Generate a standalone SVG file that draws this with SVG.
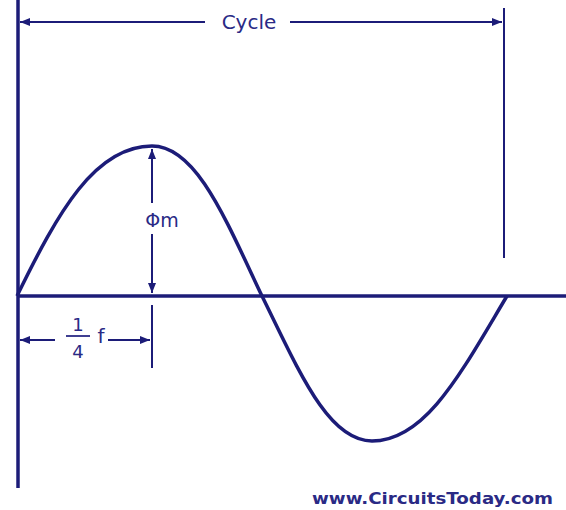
<svg xmlns="http://www.w3.org/2000/svg" width="566" height="510" viewBox="0 0 566 510">
<style>
.ln{stroke:#1c1c78;fill:none}
.t{font-family:"DejaVu Sans",Verdana,sans-serif;fill:#2a2a85}
</style>
<defs>
<marker id="ah" viewBox="0 0 10 8" refX="10" refY="4" markerWidth="10" markerHeight="8" markerUnits="userSpaceOnUse" orient="auto">
<path d="M0,0 L10,4 L0,8 Z" fill="#1c1c78"/>
</marker>
</defs>
<rect width="566" height="510" fill="#fff"/>
<g id="axes">
<line class="ln" x1="18" y1="0" x2="18" y2="488" stroke-width="3.5"/>
<line class="ln" x1="17" y1="296" x2="566" y2="296" stroke-width="3.5"/>
<line class="ln" x1="504" y1="8" x2="504" y2="258" stroke-width="2"/>
</g>
<g id="wave">
<path class="ln" stroke-width="3.5" d="M17,296 C58,212 95,146 152,146 C196,146 225,218 262,296 C299,371 328,441 372,441 C426,441 462,371 507,296"/>
</g>
<g id="connectors">
<line class="ln" x1="205" y1="22" x2="20" y2="22" stroke-width="2" marker-end="url(#ah)"/>
<line class="ln" x1="290" y1="22" x2="502" y2="22" stroke-width="2" marker-end="url(#ah)"/>
<line class="ln" x1="152" y1="203" x2="152" y2="149" stroke-width="2" marker-end="url(#ah)"/>
<line class="ln" x1="152" y1="234" x2="152" y2="293" stroke-width="2" marker-end="url(#ah)"/>
<line class="ln" x1="152" y1="305" x2="152" y2="368" stroke-width="2"/>
<line class="ln" x1="55" y1="340" x2="20" y2="340" stroke-width="2" marker-end="url(#ah)"/>
<line class="ln" x1="108" y1="340" x2="150" y2="340" stroke-width="2" marker-end="url(#ah)"/>
</g>
<g id="cycle-label">
<text class="t" x="249" y="29" font-size="20" text-anchor="middle">Cycle</text>
</g>
<g id="phim-label">
<text class="t" x="162" y="227" font-size="19" text-anchor="middle">Φm</text>
</g>
<g id="quarter-label">
<text class="t" x="78" y="331" font-size="18" text-anchor="middle">1</text>
<line x1="66" y1="336" x2="90" y2="336" stroke="#2a2a85" stroke-width="1.8"/>
<text class="t" x="78" y="358" font-size="18" text-anchor="middle">4</text>
<text class="t" x="101" y="343" font-size="20" text-anchor="middle">f</text>
</g>
<g id="website">
<text class="t" x="312" y="504" font-size="16" font-weight="bold" textLength="241" lengthAdjust="spacingAndGlyphs" fill="#35358c">www.CircuitsToday.com</text>
</g>
</svg>
